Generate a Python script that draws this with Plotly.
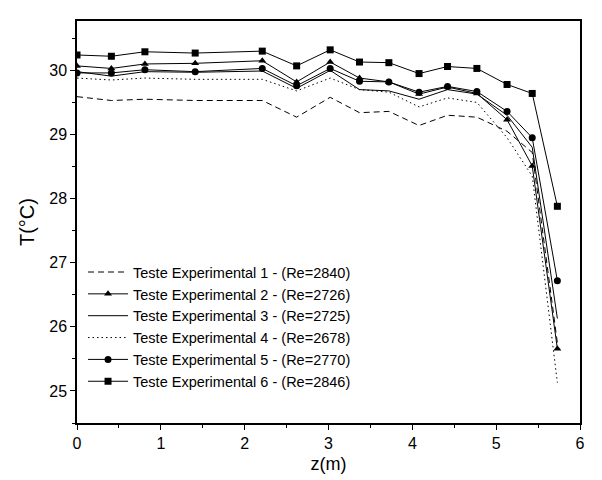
import plotly.graph_objects as go

z = [0, 0.41, 0.81, 1.41, 2.21, 2.62, 3.02, 3.37, 3.72, 4.08, 4.42, 4.77, 5.13, 5.43, 5.73]

t1 = [29.59, 29.53, 29.55, 29.53, 29.53, 29.27, 29.58, 29.34, 29.36, 29.14, 29.30, 29.27, 29.05, 28.72, 25.75]
t2 = [30.07, 30.03, 30.10, 30.11, 30.15, 29.82, 30.13, 29.88, 29.82, 29.63, 29.74, 29.64, 29.23, 28.51, 25.66]
t3 = [29.98, 29.91, 29.98, 29.97, 29.99, 29.72, 30.00, 29.70, 29.68, 29.55, 29.70, 29.63, 29.30, 28.80, 26.13]
t4 = [29.88, 29.85, 29.88, 29.86, 29.86, 29.68, 29.88, 29.70, 29.66, 29.43, 29.57, 29.50, 28.95, 28.35, 25.13]
t5 = [29.96, 29.96, 30.01, 29.98, 30.03, 29.76, 30.03, 29.83, 29.82, 29.66, 29.75, 29.67, 29.36, 28.95, 26.72]
t6 = [30.24, 30.22, 30.29, 30.27, 30.30, 30.07, 30.32, 30.13, 30.12, 29.95, 30.06, 30.03, 29.78, 29.64, 27.88]

names = [
    "Teste Experimental 1 - (Re=2840)",
    "Teste Experimental 2 - (Re=2726)",
    "Teste Experimental 3 - (Re=2725)",
    "Teste Experimental 4 - (Re=2678)",
    "Teste Experimental 5 - (Re=2770)",
    "Teste Experimental 6 - (Re=2846)",
]

series = [t1, t2, t3, t4, t5, t6]
dashes = ["6px,4px", "solid", "solid", "1.5px,3px", "solid", "solid"]
symbols = [None, "triangle-up", None, None, "circle", "square"]

fig = go.Figure()
for name, y, d, s in zip(names, series, dashes, symbols):
    if s is None:
        fig.add_trace(go.Scatter(x=z, y=y, name=name, mode="lines",
                                 line=dict(color="black", width=1, dash=d)))
    else:
        fig.add_trace(go.Scatter(x=z, y=y, name=name, mode="lines+markers",
                                 line=dict(color="black", width=1, dash=d),
                                 marker=dict(symbol=s, size=7, color="black")))

axis_common = dict(
    showgrid=False, zeroline=False, showline=True, linecolor="black", linewidth=1.5,
    mirror=True, ticks="outside", ticklen=5, tickwidth=1, tickcolor="black",
    tickfont=dict(size=16, color="black", family="Liberation Sans, Arial"),
)

fig.update_layout(
    width=602, height=480,
    margin=dict(l=69, r=30, t=11, b=65),
    paper_bgcolor="white", plot_bgcolor="white",
    font=dict(family="Liberation Sans, Arial", color="black"),
    xaxis=dict(range=[0, 6], dtick=1,
               minor=dict(dtick=0.5, ticks="outside", ticklen=3, tickcolor="black"),
               title=dict(text="z(m)", font=dict(size=18), standoff=6), **axis_common),
    yaxis=dict(range=[24.5, 30.77], dtick=1, tick0=25,
               minor=dict(dtick=0.5, ticks="outside", ticklen=3, tickcolor="black"),
               title=dict(text="T(°C)", font=dict(size=20), standoff=9), **axis_common),
    legend=dict(x=0.012, y=0.062, xanchor="left", yanchor="bottom",
                bgcolor="rgba(0,0,0,0)", font=dict(size=14.5, color="black"),
                itemwidth=40, tracegroupgap=0),
    showlegend=True,
)

fig.write_html("out.html")
